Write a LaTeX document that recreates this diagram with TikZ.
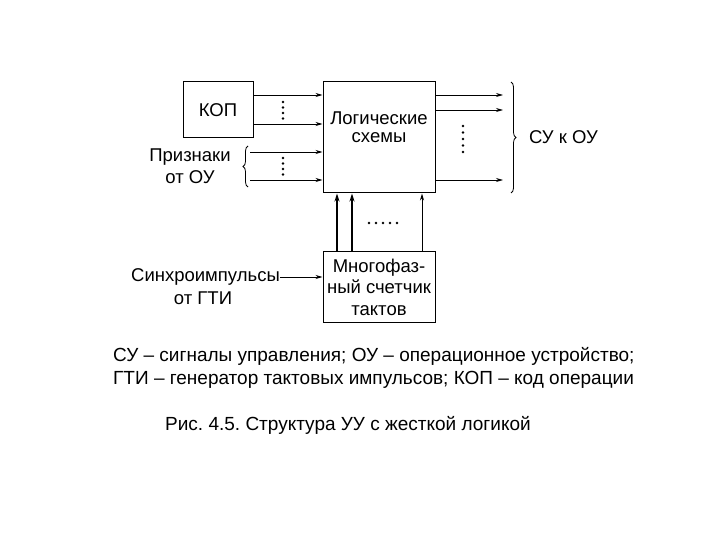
\documentclass[tikz,border=0pt]{standalone}
\usepackage{fontspec}
\setmainfont{Liberation Sans}
\usetikzlibrary{arrows.meta,decorations.pathreplacing,positioning}
\frenchspacing

\tikzset{
  blk/.style={draw, line width=1pt, align=center, font=\fontsize{18.5}{21.5}\selectfont, inner sep=0pt},
  arr/.style={-{Stealth[length=7pt,width=4pt]}, line width=0.8pt},
  thk/.style={-{Stealth[length=8pt,width=5pt]}, line width=2.2pt},
  brc/.style={decorate, decoration={brace, amplitude=5pt}, line width=0.8pt},
  lbl/.style={font=\fontsize{18.5}{21.5}\selectfont, align=center, inner sep=0pt},
}

\begin{document}
\begin{tikzpicture}[x=1pt, y=-1pt]
\useasboundingbox (0,0) rectangle (720,540);
% blocks
\node[blk, minimum width=70pt, minimum height=56pt] (kop) at (218,110) {КОП};
\node[blk, minimum width=112pt, minimum height=111pt] (logic) at (379,137.5) {};
\node[lbl] at (379,118) {Логические};
\node[lbl] at (379,138) {схемы};
\node[blk, minimum width=112pt, minimum height=71pt] (cnt) at (379,287) {Многофаз-\\ный счетчик\\тактов};

% inputs from KOP
\foreach \y in {95,124}
  \draw[arr] (kop.east |- 0,\y) -- (logic.west |- 0,\y);
\foreach \k in {0,...,3} \fill (283,102+5.5*\k) circle (1.3pt);

% flags from the executing unit
\node[lbl] (flags) at (190,166) {Признаки\\от ОУ};
\foreach \y in {152,180} {
  \coordinate (f\y) at (250,\y);
  \draw[arr] (f\y) -- (logic.west |- f\y);
}
\draw[brc] (248,187) -- (248,146);
\foreach \k in {0,...,3} \fill (283,158+5.5*\k) circle (1.3pt);

% control signals out
\foreach \y in {95,110,180} {
  \coordinate (o\y) at (503,\y);
  \draw[arr] (logic.east |- o\y) -- (o\y);
}
\foreach \k in {0,...,4} \fill (463,126+6.5*\k) circle (1.3pt);
\draw[brc] (511,82) -- (511,193);
\node[lbl, anchor=west] (su) at (529,137) {СУ к ОУ};

% counter to logic
\foreach \x in {337,352}
  \draw[thk] (cnt.north -| \x,0) -- (logic.south -| \x,0);
\draw[arr] (cnt.north -| 422,0) -- (logic.south -| 422,0);
\foreach \k in {0,...,4} \fill (369+7*\k,223) circle (1.3pt);

% clock input
\node[lbl, anchor=east] (sync) at (280,277) {Синхроимпульсы};
\node[lbl] (gti) at (203,298) {от ГТИ};
\draw[arr] (sync.east) -- (cnt.west |- sync.east);

% legend and caption
\node[lbl, anchor=west, align=left, font=\fontsize{19}{23}\selectfont] (legend) at (113,368)
  {СУ -- сигналы управления; ОУ -- операционное устройство;\\ГТИ -- генератор тактовых импульсов; КОП -- код операции};
\node[lbl, anchor=west, font=\fontsize{19}{20}\selectfont] (cap) at (165,425) {Рис. 4.5. Структура УУ с жесткой логикой};
\end{tikzpicture}
\end{document}
